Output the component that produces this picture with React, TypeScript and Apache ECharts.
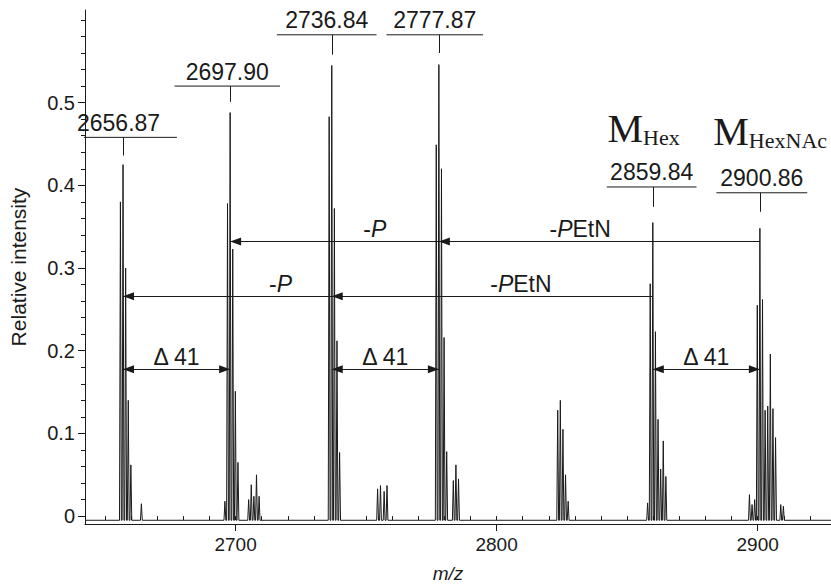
import React, { useEffect, useRef } from 'react';
import * as echarts from 'echarts';

// ---------- data (m/z, relative intensity) ----------
const baselineLevel = -0.005;
const xMin = 2642.3;
const xMax = 2928.1;

const peaks2657: number[][] = [[2655.87, 0.38], [2656.87, 0.425], [2657.87, 0.30], [2658.87, 0.14], [2659.87, 0.062], [2663.9, 0.015]];
const peaks2698: number[][] = [[2695.9, 0.018], [2696.9, 0.378], [2697.9, 0.488], [2698.9, 0.323], [2699.9, 0.151], [2700.9, 0.065], [2705.0, 0.02], [2706.0, 0.038], [2707.0, 0.024], [2708.0, 0.05], [2709.0, 0.024]];
const peaks2737: number[][] = [[2735.84, 0.483], [2736.84, 0.545], [2737.84, 0.372], [2738.84, 0.212], [2739.84, 0.077], [2754.4, 0.033], [2755.5, 0.037], [2756.9, 0.03], [2758.0, 0.037]];
const peaks2778: number[][] = [[2776.87, 0.449], [2777.87, 0.546], [2778.87, 0.42], [2779.87, 0.216], [2780.87, 0.078], [2783.4, 0.043], [2784.4, 0.062], [2785.4, 0.045]];
const peaks2825: number[][] = [[2823.4, 0.128], [2824.4, 0.14], [2825.4, 0.105], [2826.4, 0.05], [2827.4, 0.018]];
const peaks2860: number[][] = [[2857.84, 0.016], [2858.84, 0.281], [2859.84, 0.355], [2860.84, 0.223], [2861.84, 0.117], [2862.84, 0.057], [2863.84, 0.091], [2864.84, 0.048]];
const peaks2901: number[][] = [[2896.86, 0.026], [2897.86, 0.014], [2898.86, 0.02], [2899.86, 0.255], [2900.86, 0.348], [2901.86, 0.262], [2902.86, 0.128], [2903.86, 0.133], [2904.86, 0.196], [2905.86, 0.13], [2906.86, 0.095], [2908.86, 0.014], [2909.86, 0.012]];

// labelled peaks
const labelMz = [2656.87, 2697.90, 2736.84, 2777.87, 2859.84, 2900.86];
const labelText = ['2656.87', '2697.90', '2736.84', '2777.87', '2859.84', '2900.86'];
const labelLevel = [0.458, 0.52, 0.582, 0.582, 0.398, 0.391];
const labelTickEnd = [0.436, 0.501, 0.558, 0.56, 0.374, 0.368];
const labelBarFrom = [2632.8, 2676.6, 2715.8, 2757.8, 2842.2, 2884.2];
const labelBarTo = [2677.5, 2717.0, 2754.0, 2794.8, 2876.6, 2919.0];

// loss arrows: [from m/z, to m/z, intensity level]
const lossRow1: number[][] = [[2900.86, 2777.87, 0.332], [2777.87, 2697.90, 0.332]];
const lossRow2: number[][] = [[2859.84, 2736.84, 0.266], [2736.84, 2656.87, 0.266]];
const deltaPairs: number[][] = [[2656.87, 2697.90], [2736.84, 2777.87], [2859.84, 2900.86]];
const deltaLevel = 0.1776;

// text annotations [m/z, level, text]
const lossLabels: [number, number, string][] = [
  [2753.3, 0.332, '{n|-}{i|P}'],
  [2832.0, 0.332, '{n|-}{i|P}{n|EtN}'],
  [2717.2, 0.266, '{n|-}{i|P}'],
  [2809.3, 0.266, '{n|-}{i|P}{n|EtN}'],
];
const deltaText = 'Δ 41';
const mLabels: [number, number, string][] = [
  [2856.3, 0.445, '{m|M}{s|Hex}'],
  [2904.8, 0.441, '{m|M}{s|HexNAc}'],
];

const yMajor = [0, 0.1, 0.2, 0.3, 0.4, 0.5];
const yMinor = [0, 0.02, 0.04, 0.06, 0.08, 0.1, 0.12, 0.14, 0.16, 0.18, 0.2, 0.22, 0.24, 0.26, 0.28, 0.3, 0.32, 0.34, 0.36, 0.38, 0.4, 0.42, 0.44, 0.46, 0.48, 0.5, 0.52, 0.54, 0.56, 0.58, 0.6];
const xMajor = [2700, 2800, 2900];
const xMinor = [2650, 2660, 2670, 2680, 2690, 2700, 2710, 2720, 2730, 2740, 2750, 2760, 2770, 2780, 2790, 2800, 2810, 2820, 2830, 2840, 2850, 2860, 2870, 2880, 2890, 2900, 2910, 2920];

const SANS = '"Liberation Sans", Arial, sans-serif';
const SERIF = '"Liberation Serif", "Times New Roman", serif';
const INK = '#1a1a1a';
const LABEL_FS = 23;

function buildProfile(): number[][] {
  const all = [...peaks2657, ...peaks2698, ...peaks2737, ...peaks2778, ...peaks2825, ...peaks2860, ...peaks2901]
    .slice()
    .sort((a, b) => a[0] - b[0]);
  const hw = 0.35;
  const out: number[][] = [[xMin, baselineLevel]];
  for (const [m, v] of all) {
    out.push([m - hw, baselineLevel], [m, v], [m + hw, baselineLevel]);
  }
  out.push([xMax, baselineLevel]);
  return out;
}

const arrowEnd = { symbol: 'triangle', symbolSize: [8, 11], symbolOffset: [0, 5.5] };
const noEnd = { symbol: 'none' };

export default function App() {
  const ref = useRef<HTMLDivElement>(null);
  useEffect(() => {
    if (!ref.current) return;
    const chart = echarts.init(ref.current, null, { renderer: 'svg' });

    const lines: any[] = [];
    labelMz.forEach((m, i) => {
      lines.push([{ coord: [m, labelLevel[i]], ...noEnd }, { coord: [m, labelTickEnd[i]], ...noEnd }]);
    });
    [...lossRow1, ...lossRow2].forEach(([a, b, y]) => {
      lines.push([{ coord: [a, y], ...noEnd }, { coord: [b, y], ...arrowEnd }]);
    });
    deltaPairs.forEach(([a, b]) => {
      lines.push([{ coord: [a, deltaLevel], ...arrowEnd }, { coord: [b, deltaLevel], ...arrowEnd }]);
    });

    const points: any[] = [];
    labelMz.forEach((m, i) => {
      points.push({ coord: [(labelBarFrom[i] + labelBarTo[i]) / 2, labelLevel[i]], label: { formatter: labelText[i] } });
    });
    lossLabels.forEach(([m, y, t]) => points.push({ coord: [m, y], label: { formatter: t, distance: 1 } }));
    deltaPairs.forEach(([a, b]) => points.push({ coord: [(a + b) / 2, deltaLevel], label: { formatter: deltaText, distance: 1 } }));
    mLabels.forEach(([m, y, t]) => points.push({ coord: [m, y], label: { formatter: t, distance: 0 } }));

    const bracketSeries = labelMz.map((m, i) => ({
      type: 'line', name: 'bracket ' + labelText[i], xAxisIndex: 0, yAxisIndex: 0, clip: false,
      data: [[labelBarFrom[i], labelLevel[i]], [labelBarTo[i], labelLevel[i]]],
      showSymbol: false, symbol: 'none', silent: true,
      lineStyle: { color: INK, width: 1 },
    }));

    chart.setOption({
      animation: false,
      backgroundColor: '#ffffff',
      grid: { left: 83, right: 0, top: 10, bottom: 55, containLabel: false },
      xAxis: [
        {
          type: 'value', min: xMin, max: xMax, position: 'bottom',
          axisLine: { show: true, onZero: false, lineStyle: { color: INK, width: 1 } },
          axisTick: { show: true, customValues: xMajor, length: 7, lineStyle: { color: INK } },
          axisLabel: { customValues: xMajor, fontSize: 19, color: INK, fontFamily: SANS, margin: 11, formatter: (v: number) => String(v) },
          splitLine: { show: false },
          name: 'm/z', nameLocation: 'middle', nameGap: 40,
          nameTextStyle: { fontStyle: 'italic', fontSize: 19, color: INK, fontFamily: SANS, padding: [0, 20, 0, 0] },
        },
        {
          type: 'value', min: xMin, max: xMax, position: 'bottom',
          axisLine: { show: false },
          axisTick: { show: true, customValues: xMinor, length: 4, lineStyle: { color: INK } },
          axisLabel: { show: false }, splitLine: { show: false },
        },
      ],
      yAxis: [
        {
          type: 'value', min: -0.0095, max: 0.612, position: 'left',
          axisLine: { show: true, onZero: false, lineStyle: { color: INK, width: 1 } },
          axisTick: { show: true, customValues: yMajor, length: 7, lineStyle: { color: INK } },
          axisLabel: {
            customValues: yMajor, fontSize: 20, color: INK, fontFamily: SANS, margin: 10,
            formatter: (v: number) => (Math.abs(v) < 1e-9 ? '0' : v.toFixed(1)),
          },
          splitLine: { show: false },
          name: 'Relative intensity', nameLocation: 'middle', nameGap: 56, nameRotate: 90,
          nameTextStyle: { fontSize: 21, color: INK, fontFamily: SANS },
        },
        {
          type: 'value', min: -0.0095, max: 0.612, position: 'left',
          axisLine: { show: false },
          axisTick: { show: true, customValues: yMinor, length: 4, lineStyle: { color: INK } },
          axisLabel: { show: false }, splitLine: { show: false },
        },
      ],
      series: [
        {
          type: 'line', name: 'spectrum', xAxisIndex: 0, yAxisIndex: 0, clip: false,
          data: buildProfile(), showSymbol: false, symbol: 'none', silent: true,
          lineStyle: { color: INK, width: 1 },
          markLine: {
            silent: true, animation: false, symbol: ['none', 'none'],
            lineStyle: { color: INK, width: 1, type: 'solid' },
            label: { show: false },
            emphasis: { disabled: true },
            data: lines,
          },
          markPoint: {
            silent: true, animation: false, symbol: 'rect', symbolSize: 0,
            itemStyle: { color: 'transparent' },
            label: {
              show: true, position: 'top', distance: 3, color: INK, fontSize: LABEL_FS, fontFamily: SANS,
              rich: {
                n: { fontSize: LABEL_FS, fontFamily: SANS, color: INK },
                i: { fontSize: LABEL_FS, fontFamily: SANS, color: INK, fontStyle: 'italic' },
                m: { fontSize: 40, fontFamily: SERIF, color: INK, lineHeight: 40 },
                s: { fontSize: 22, fontFamily: SERIF, color: INK, verticalAlign: 'bottom', lineHeight: 22 },
              },
            },
            data: points,
          },
        },
        ...bracketSeries,
      ],
    });
    return () => chart.dispose();
  }, []);
  return <div ref={ref} style={{ position: 'absolute', left: 0, top: 0, width: 831, height: 588 }} />;
}
